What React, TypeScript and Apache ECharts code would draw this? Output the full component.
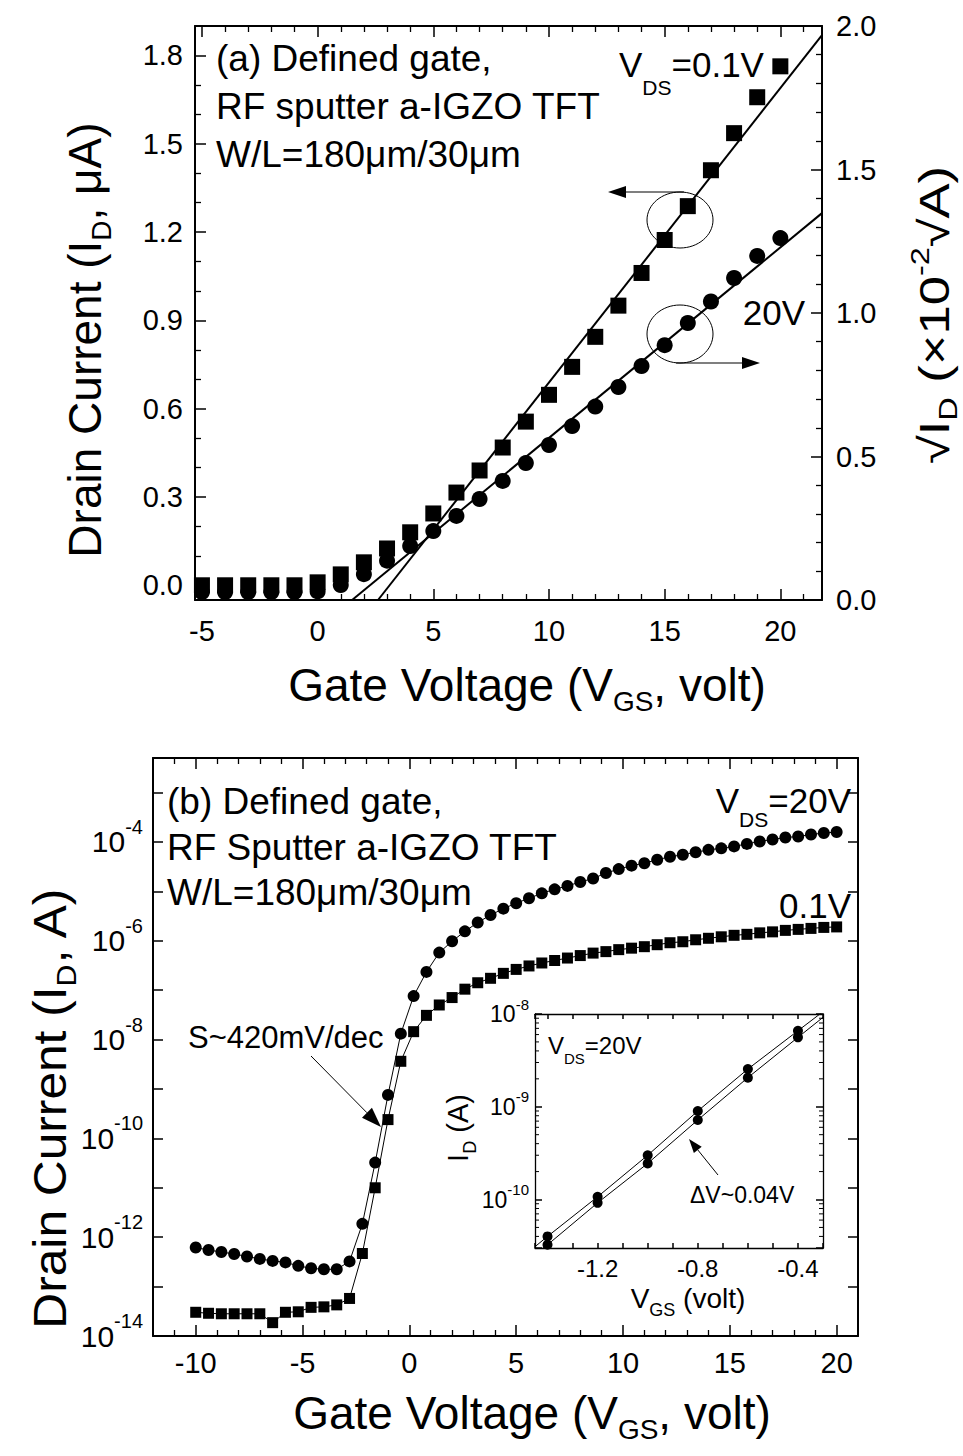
import React, { useEffect, useRef } from 'react';
import * as echarts from 'echarts';

const FONT = 'Liberation Sans, Arial, Helvetica, sans-serif';

// ---------------- Panel (a): linear plot ----------------
const vgsA = [-5, -4, -3, -2, -1, 0, 1, 2, 3, 4, 5, 6, 7, 8, 9, 10, 11, 12, 13, 14, 15, 16, 17, 18, 19, 20];
// I_D (uA) at V_DS = 0.1 V (squares, left axis)
const idLinA = [0, 0, 0, 0, 0, 0.01, 0.037, 0.078, 0.125, 0.18, 0.244, 0.315, 0.39, 0.468, 0.556, 0.647, 0.742, 0.844, 0.95, 1.061, 1.173, 1.288, 1.41, 1.536, 1.658, 1.763];
// sqrt(I_D) (x1e-2 sqrt(A)) at V_DS = 20 V (circles, right axis)
const sqrtIdA = [0.028, 0.028, 0.028, 0.028, 0.028, 0.03, 0.052, 0.09, 0.137, 0.188, 0.24, 0.293, 0.352, 0.415, 0.477, 0.54, 0.606, 0.674, 0.742, 0.815, 0.888, 0.965, 1.04, 1.122, 1.199, 1.261];
// linear-extrapolation fit lines (end points)
const fitLinA = [[2.61, -0.05], [21.8, 1.869]];
const fitSatA = [[1.49, 0], [21.8, 1.348]];

// ---------------- Panel (b): log plot ----------------
const vgsB = [-10, -9.4, -8.8, -8.2, -7.6, -7, -6.4, -5.8, -5.2, -4.6, -4, -3.4, -2.8, -2.2, -1.6, -1, -0.4, 0.2, 0.8, 1.4, 2, 2.6, 3.2, 3.8, 4.4, 5, 5.6, 6.2, 6.8, 7.4, 8, 8.6, 9.2, 9.8, 10.4, 11, 11.6, 12.2, 12.8, 13.4, 14, 14.6, 15.2, 15.8, 16.4, 17, 17.6, 18.2, 18.8, 19.4, 20];
// log10(I_D / A) at V_DS = 20 V (circles)
const logId20B = [-12.21, -12.26, -12.30, -12.34, -12.39, -12.44, -12.48, -12.51, -12.58, -12.63, -12.65, -12.65, -12.49, -11.73, -10.49, -9.12, -7.88, -7.12, -6.63, -6.24, -6.01, -5.81, -5.63, -5.48, -5.35, -5.24, -5.14, -5.04, -4.96, -4.89, -4.81, -4.74, -4.63, -4.55, -4.48, -4.43, -4.36, -4.30, -4.26, -4.21, -4.16, -4.13, -4.09, -4.04, -3.99, -3.95, -3.91, -3.89, -3.85, -3.82, -3.80];
// log10(I_D / A) at V_DS = 0.1 V (squares)
const logId01B = [-13.52, -13.54, -13.55, -13.55, -13.55, -13.55, -13.73, -13.52, -13.51, -13.42, -13.41, -13.37, -13.24, -12.33, -11.0, -9.62, -8.44, -7.84, -7.51, -7.30, -7.15, -6.98, -6.85, -6.76, -6.66, -6.58, -6.51, -6.45, -6.40, -6.35, -6.30, -6.25, -6.22, -6.18, -6.15, -6.12, -6.08, -6.04, -6.02, -5.98, -5.95, -5.92, -5.89, -5.87, -5.84, -5.82, -5.79, -5.77, -5.75, -5.73, -5.72];

// ---------------- Inset ----------------
const vgsInset = [-1.4, -1.2, -1.0, -0.8, -0.6, -0.4];
const idInsetUpper = [4.0e-11, 1.07e-10, 3.0e-10, 9.0e-10, 2.55e-9, 6.6e-9];
const idInsetLower = [3.25e-11, 9.2e-11, 2.45e-10, 7.2e-10, 2.06e-9, 5.6e-9];
const insetLineUpperEnds = [[-1.45, 3.1e-11], [-0.3, 1.06e-8]];
const insetLineLowerEnds = [[-1.45, 2.6e-11], [-0.3, 9.2e-9]];

const INSET_X_MIN = -1.45;
const INSET_X_MAX = -0.3;
const INSET_Y_MIN = 3e-11;
const INSET_Y_MAX = 1e-8;

const BLACK = '#000';

function arrow(x1: number, y1: number, x2: number, y2: number, head = 18, half = 6, lw = 1.2) {
  const dx = x2 - x1;
  const dy = y2 - y1;
  const len = Math.hypot(dx, dy);
  const ux = dx / len;
  const uy = dy / len;
  const bx = x2 - ux * head;
  const by = y2 - uy * head;
  return [
    { type: 'line', shape: { x1, y1, x2: bx, y2: by }, style: { stroke: BLACK, lineWidth: lw } },
    {
      type: 'polygon',
      shape: { points: [[x2, y2], [bx - uy * half, by + ux * half], [bx + uy * half, by - ux * half]] },
      style: { fill: BLACK },
    },
  ];
}

function txt(text: string, x: number, y: number, fontSize: number, opts: any = {}) {
  const align = opts.align || 'left';
  const rich: any = {};
  const subSize = opts.subSize || Math.round(fontSize * 0.6);
  const subShift = opts.subShift != null ? opts.subShift : fontSize * 0.45;
  const supShift = opts.supShift != null ? opts.supShift : fontSize * 0.42;
  rich.s = { fontSize: subSize, fontFamily: FONT, fill: BLACK, padding: [subShift * 2, 0, 0, 0] };
  rich.p = { fontSize: subSize, fontFamily: FONT, fill: BLACK, padding: [0, 0, supShift * 2, 0] };
  const el: any = {
    type: 'text',
    x,
    y,
    rotation: opts.rotation || 0,
    style: {
      text,
      fontSize,
      fontFamily: FONT,
      fill: BLACK,
      align,
      textAlign: align,
      verticalAlign: 'middle',
      textVerticalAlign: 'middle',
      rich,
    },
  };
  if (opts.scaleX) el.scaleX = opts.scaleX;
  if (opts.scaleY) el.scaleY = opts.scaleY;
  return el;
}

function boxAxis(extra: any, tickLen = 11, minorLen = 6, lineW = 2) {
  return {
    splitLine: { show: false },
    axisLine: { show: true, onZero: false, lineStyle: { color: BLACK, width: lineW } },
    axisTick: { show: true, inside: true, length: tickLen, lineStyle: { color: BLACK, width: 1.5 } },
    minorTick: { show: false, length: minorLen, lineStyle: { color: BLACK, width: 1.3 } },
    ...extra,
  };
}

const fmtX5 = (v: number) => {
  const r = Math.round(v);
  if (Math.abs(v - r) > 1e-6 || r % 5 !== 0) return '';
  return String(r);
};

const fmtLeftA = (v: number) => {
  const r = Math.round(v * 10);
  if (Math.abs(v * 10 - r) > 1e-6 || r % 3 !== 0) return '';
  return (r / 10).toFixed(1);
};

const fmtLogEven = (v: number) => {
  const l = Math.log10(v);
  const e = Math.round(l);
  if (Math.abs(l - e) > 1e-6 || e % 2 !== 0) return '';
  return '{b|10}{p|' + e + '}';
};

const fmtLogAll = (v: number) => {
  const l = Math.log10(v);
  const e = Math.round(l);
  if (Math.abs(l - e) > 1e-6) return '';
  return '{b|10}{p|' + e + '}';
};

const fmtInsetX = (v: number) => {
  const r = Math.round(v * 10);
  if (Math.abs(v * 10 - r) > 1e-6) return '';
  if (r === -12 || r === -8 || r === -4) return (r / 10).toFixed(1);
  return '';
};

// minor log ticks for the inset (axis decoration)
const insetMinorTicks: number[][] = [];
for (const n of [-11, -10, -9]) {
  for (let k = 2; k <= 9; k++) {
    const v = k * Math.pow(10, n);
    if (v > INSET_Y_MIN && v < INSET_Y_MAX) insetMinorTicks.push([INSET_X_MIN, v]);
  }
}

function buildOption() {
  const labelA = { color: BLACK, fontSize: 29, fontFamily: FONT };
  const minor = (n: number) => ({ show: true, splitNumber: n, length: 6, lineStyle: { color: BLACK, width: 1.3 } });
  const xAxis = [
    boxAxis({
      type: 'value', gridIndex: 0, position: 'bottom', min: -5.3, max: 21.8, splitNumber: 5,
      minorTick: minor(5),
      axisLabel: { ...labelA, margin: 16, formatter: fmtX5 },
    }),
    boxAxis({
      type: 'value', gridIndex: 0, position: 'top', min: -5.3, max: 21.8, splitNumber: 5,
      minorTick: minor(5),
      axisLabel: { show: false },
    }),
    boxAxis({
      type: 'value', gridIndex: 1, position: 'bottom', min: -12, max: 21, splitNumber: 6,
      minorTick: minor(5),
      axisLabel: { ...labelA, margin: 12, formatter: fmtX5 },
    }),
    boxAxis({
      type: 'value', gridIndex: 1, position: 'top', min: -12, max: 21, splitNumber: 6,
      minorTick: minor(5),
      axisLabel: { show: false },
    }),
    boxAxis({
      type: 'value', gridIndex: 2, position: 'bottom', min: INSET_X_MIN, max: INSET_X_MAX, splitNumber: 11,
      axisLabel: { color: BLACK, fontSize: 24, fontFamily: FONT, margin: 8, formatter: fmtInsetX },
    }, 5, 3, 1.3),
    boxAxis({
      type: 'value', gridIndex: 2, position: 'top', min: INSET_X_MIN, max: INSET_X_MAX, splitNumber: 11,
      axisLabel: { show: false },
    }, 5, 3, 1.3),
  ];

  const yAxis = [
    boxAxis({
      type: 'value', gridIndex: 0, position: 'left', min: -0.05, max: 1.9, splitNumber: 6,
      minorTick: minor(3),
      axisLabel: { ...labelA, margin: 12, formatter: fmtLeftA },
    }),
    boxAxis({
      type: 'value', gridIndex: 0, position: 'right', min: 0, max: 2, interval: 0.5,
      minorTick: minor(5),
      axisLabel: { ...labelA, margin: 14, formatter: (v: number) => v.toFixed(1) },
    }),
    boxAxis({
      type: 'log', gridIndex: 1, position: 'left', min: 1e-14, max: 5e-3, interval: 1, logBase: 10,
      axisLabel: {
        ...labelA, margin: 10, formatter: fmtLogEven,
        rich: {
          b: { fontSize: 30, fontFamily: FONT, color: BLACK },
          p: { fontSize: 20, fontFamily: FONT, color: BLACK, padding: [0, 0, 30, 0] },
        },
      },
    }, 10),
    boxAxis({
      type: 'log', gridIndex: 1, position: 'right', min: 1e-14, max: 5e-3, interval: 1, logBase: 10,
      axisLabel: { show: false },
    }, 10),
    boxAxis({
      type: 'log', gridIndex: 2, position: 'left', min: INSET_Y_MIN, max: INSET_Y_MAX, logBase: 10,
      axisLabel: {
        color: BLACK, fontSize: 23, fontFamily: FONT, margin: 6, formatter: fmtLogAll,
        rich: {
          b: { fontSize: 23, fontFamily: FONT, color: BLACK },
          p: { fontSize: 15, fontFamily: FONT, color: BLACK, padding: [0, 0, 20, 0] },
        },
      },
    }, 7, 4, 1.3),
    boxAxis({
      type: 'log', gridIndex: 2, position: 'right', min: INSET_Y_MIN, max: INSET_Y_MAX, logBase: 10,
      axisLabel: { show: false },
    }, 7, 4, 1.3),
  ];

  const solid = { color: BLACK, opacity: 1 };
  const series: any[] = [
    // panel (a)
    {
      type: 'scatter', xAxisIndex: 0, yAxisIndex: 1, symbol: 'circle', symbolSize: 16,
      itemStyle: solid, data: vgsA.map((v, i) => [v, sqrtIdA[i]]),
    },
    {
      type: 'scatter', xAxisIndex: 0, yAxisIndex: 0, symbol: 'rect', symbolSize: 16,
      itemStyle: solid, data: vgsA.map((v, i) => [v, idLinA[i]]),
    },
    {
      type: 'line', xAxisIndex: 0, yAxisIndex: 0, symbol: 'none', showSymbol: false,
      lineStyle: { color: BLACK, width: 2 }, data: fitLinA,
    },
    {
      type: 'line', xAxisIndex: 0, yAxisIndex: 1, symbol: 'none', showSymbol: false,
      lineStyle: { color: BLACK, width: 2 }, data: fitSatA,
    },
    // panel (b)
    {
      type: 'line', xAxisIndex: 2, yAxisIndex: 2, symbol: 'circle', symbolSize: 12,
      itemStyle: solid, lineStyle: { color: BLACK, width: 1 },
      data: vgsB.map((v, i) => [v, Math.pow(10, logId20B[i])]),
    },
    {
      type: 'line', xAxisIndex: 2, yAxisIndex: 2, symbol: 'rect', symbolSize: 11,
      itemStyle: solid, lineStyle: { color: BLACK, width: 1 },
      data: vgsB.map((v, i) => [v, Math.pow(10, logId01B[i])]),
    },
    // inset
    {
      type: 'line', xAxisIndex: 4, yAxisIndex: 4, symbol: 'none', showSymbol: false,
      lineStyle: { color: BLACK, width: 1 },
      data: [insetLineUpperEnds[0], ...vgsInset.map((v, i) => [v, idInsetUpper[i]]), insetLineUpperEnds[1]],
    },
    {
      type: 'line', xAxisIndex: 4, yAxisIndex: 4, symbol: 'none', showSymbol: false,
      lineStyle: { color: BLACK, width: 1 },
      data: [insetLineLowerEnds[0], ...vgsInset.map((v, i) => [v, idInsetLower[i]]), insetLineLowerEnds[1]],
    },
    {
      type: 'scatter', xAxisIndex: 4, yAxisIndex: 4, symbol: 'circle', symbolSize: 10,
      itemStyle: solid, data: vgsInset.map((v, i) => [v, idInsetUpper[i]]),
    },
    {
      type: 'scatter', xAxisIndex: 4, yAxisIndex: 4, symbol: 'circle', symbolSize: 10,
      itemStyle: solid, data: vgsInset.map((v, i) => [v, idInsetLower[i]]),
    },
    {
      type: 'custom', xAxisIndex: 4, yAxisIndex: 4, silent: true, clip: false,
      data: insetMinorTicks,
      renderItem: (params: any, api: any) => {
        const v = api.value(1);
        const l = api.coord([INSET_X_MIN, v]);
        const r = api.coord([INSET_X_MAX, v]);
        return {
          type: 'group',
          children: [
            { type: 'line', shape: { x1: l[0], y1: l[1], x2: l[0] + 4, y2: l[1] }, style: { stroke: BLACK, lineWidth: 1 } },
            { type: 'line', shape: { x1: r[0], y1: r[1], x2: r[0] - 4, y2: r[1] }, style: { stroke: BLACK, lineWidth: 1 } },
          ],
        };
      },
    },
  ];

  const graphics: any[] = [
    // panel (a) annotations
    txt('(a) Defined gate,', 216, 58, 37),
    txt('RF sputter a-IGZO TFT', 216, 106, 37),
    txt('W/L=180\u03bcm/30\u03bcm', 216, 154, 37),
    txt('V{s|DS}=0.1V', 619, 64, 35, { subSize: 21, subShift: 23 }),
    txt('20V', 805, 312, 35, { align: 'right' }),
    { type: 'ellipse', shape: { cx: 680, cy: 220, rx: 33, ry: 28 }, style: { fill: 'none', stroke: BLACK, lineWidth: 1 } },
    ...arrow(684, 192, 608, 192),
    { type: 'ellipse', shape: { cx: 680, cy: 334, rx: 33, ry: 29 }, style: { fill: 'none', stroke: BLACK, lineWidth: 1 } },
    ...arrow(676, 363, 760, 363),
    txt('Drain Current (I{s|D}, \u03bcA)', 85, 340, 46, { rotation: Math.PI / 2, align: 'center', subSize: 28, subShift: 16 }),
    txt('Gate Voltage (V{s|GS}, volt)', 527, 685, 46, { align: 'center', subSize: 28, subShift: 16 }),
    txt('\u221aI{s|D} (\u00d710{p|-2}\u221aA)', 934, 315, 42, { rotation: Math.PI / 2, align: 'center', subSize: 26, subShift: 14, supShift: 14, scaleX: 1.25 }),

    // panel (b) annotations
    txt('(b) Defined gate,', 167, 801, 37),
    txt('RF Sputter a-IGZO TFT', 167, 847, 37),
    txt('W/L=180\u03bcm/30\u03bcm', 167, 892, 37),
    txt('V{s|DS}=20V', 851, 800, 35, { align: 'right', subSize: 21, subShift: 19 }),
    txt('0.1V', 851, 905, 35, { align: 'right' }),
    txt('S~420mV/dec', 188, 1037, 31),
    ...arrow(311, 1056, 381, 1127, 20, 7, 1),
    txt('Drain Current (I{s|D}, A)', 50, 1108, 46, { rotation: Math.PI / 2, align: 'center', subSize: 28, subShift: 16, scaleX: 1.08 }),
    txt('Gate Voltage (V{s|GS}, volt)', 532, 1413, 46, { align: 'center', subSize: 28, subShift: 16 }),

    // inset annotations
    txt('V{s|DS}=20V', 548, 1045, 24, { subSize: 15, subShift: 13 }),
    txt('\u0394V~0.04V', 690, 1195, 23),
    ...arrow(718, 1175, 689, 1139, 14, 5, 1),
    txt('I{s|D} (A)', 458, 1128, 29, { rotation: Math.PI / 2, align: 'center', subSize: 18, subShift: 12 }),
    txt('V{s|GS} (volt)', 688, 1298, 28, { align: 'center', subSize: 18, subShift: 12 }),
  ];

  return {
    animation: false,
    backgroundColor: '#fff',
    textStyle: { fontFamily: FONT, color: BLACK },
    grid: [
      { left: 195, top: 26, width: 627, height: 574, outerBoundsMode: 'none' },
      { left: 153, top: 758, width: 705, height: 578, outerBoundsMode: 'none' },
      { left: 535, top: 1014, width: 288, height: 234, outerBoundsMode: 'none' },
    ],
    xAxis,
    yAxis,
    series,
    graphic: { elements: graphics },
  };
}

export default function App() {
  const ref = useRef<HTMLDivElement>(null);
  useEffect(() => {
    if (!ref.current) return;
    const chart = echarts.init(ref.current, null, { renderer: 'svg' });
    chart.setOption(buildOption() as any);
    return () => chart.dispose();
  }, []);
  return (
    <div
      ref={ref}
      style={{ position: 'absolute', left: 0, top: 0, width: 963, height: 1456, background: '#fff' }}
    />
  );
}
